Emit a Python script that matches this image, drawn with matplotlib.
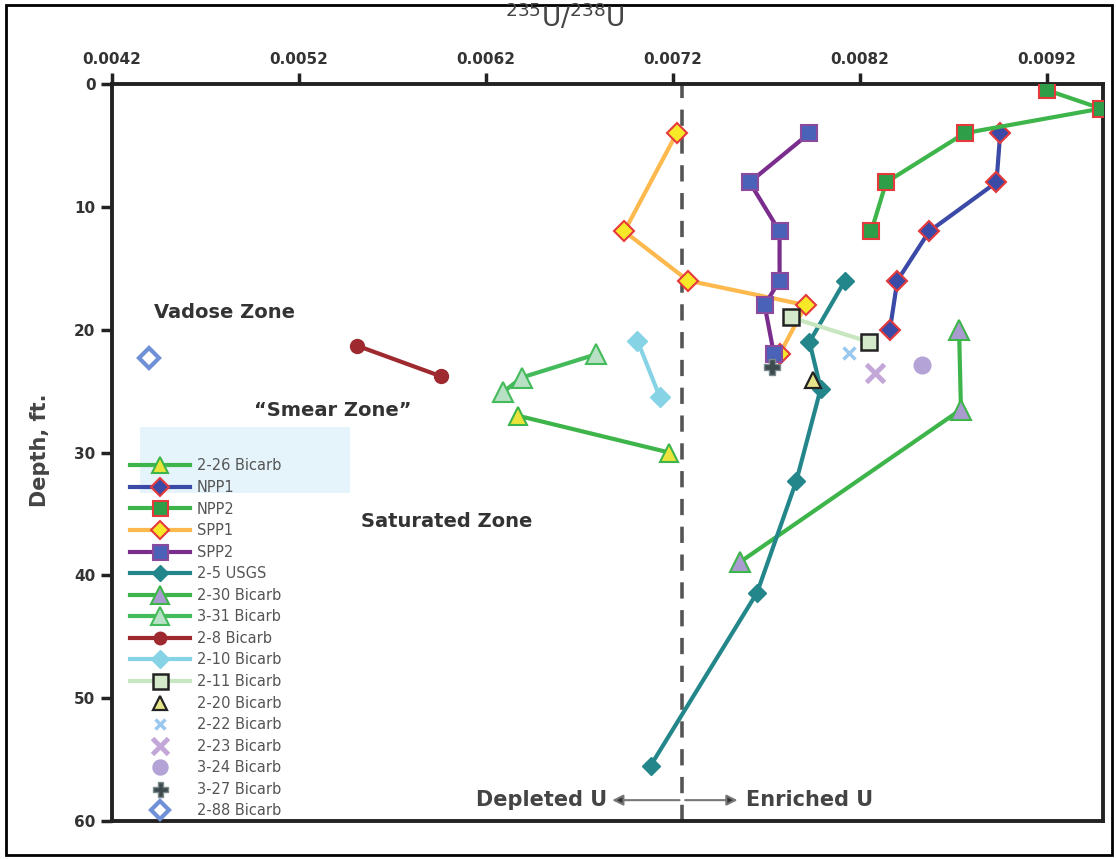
import matplotlib.pyplot as plt
from matplotlib.patches import Rectangle

# ---- data (235U/238U ratio vs depth, ft) ----
npp1_x = [0.00895, 0.00893, 0.00857, 0.00840, 0.00836]
npp1_d = [4, 8, 12, 16, 20]
npp2_x = [0.00920, 0.00949, 0.00876, 0.00834, 0.00826]
npp2_d = [0.5, 2, 4, 8, 12]
spp1_x = [0.00722, 0.00694, 0.00728, 0.00791, 0.00777]
spp1_d = [4, 12, 16, 18, 22]
spp2_x = [0.00793, 0.00761, 0.00777, 0.00777, 0.00769, 0.00774]
spp2_d = [4, 8, 12, 16, 18, 22]
usgs_x = [0.00812, 0.00793, 0.00799, 0.00786, 0.00765, 0.00708]
usgs_d = [16, 21, 24.8, 32.3, 41.4, 55.5]
b230_x = [0.00873, 0.00874, 0.00756]
b230_d = [20, 26.5, 38.9]
b331_x = [0.00679, 0.00639, 0.00629]
b331_d = [22, 23.9, 25.1]
b226_x = [0.00637, 0.00718]
b226_d = [27, 30]
b28_x = [0.00551, 0.00596]
b28_d = [21.3, 23.8]
b210_x = [0.00701, 0.00713]
b210_d = [20.9, 25.5]
b211_x = [0.00783, 0.00825]
b211_d = [19, 21]
b220_x, b220_d = [0.00795], [24.1]
b222_x, b222_d = [0.00814], [21.9]
b223_x, b223_d = [0.00828], [23.5]
b324_x, b324_d = [0.00853], [22.9]
b327_x, b327_d = [0.00773], [23.0]
b288_x, b288_d = [0.00440], [22.3]

natural_ratio = 0.00725
x_ticks = [0.0042, 0.0052, 0.0062, 0.0072, 0.0082, 0.0092]
y_ticks = [0, 10, 20, 30, 40, 50, 60]

fig = plt.figure(figsize=(11.16, 8.59), dpi=100)
ax = fig.add_axes([0.1004, 0.0442, 0.888, 0.858])

green = "#3db54a"
red_edge = "#e5393c"

ax.axvline(natural_ratio, color="#555555", lw=2.6, dashes=(4.5, 3.2), zorder=1)

handles = []
h, = ax.plot(b226_x, b226_d, color=green, lw=3, marker="^", ms=13, mfc="#e9e33c",
             mec=green, mew=1.5, label="2-26 Bicarb", zorder=3)
handles.append(h)
h, = ax.plot(npp1_x, npp1_d, color="#3b4aa6", lw=3, marker="D", ms=10, mfc="#3b4aa6",
             mec=red_edge, mew=1.5, label="NPP1", zorder=3)
handles.append(h)
h, = ax.plot(npp2_x, npp2_d, color=green, lw=3, marker="s", ms=12, mfc="#2f9e48",
             mec=red_edge, mew=1.5, label="NPP2", zorder=3)
handles.append(h)
h, = ax.plot(spp1_x, spp1_d, color="#fdb94e", lw=3, marker="D", ms=10, mfc="#f7e928",
             mec=red_edge, mew=1.5, label="SPP1", zorder=3)
handles.append(h)
h, = ax.plot(spp2_x, spp2_d, color="#7b2d8e", lw=3, marker="s", ms=12, mfc="#4a62b8",
             mec="#8a4a9e", mew=1.5, label="SPP2", zorder=3)
handles.append(h)
h, = ax.plot(usgs_x, usgs_d, color="#23868a", lw=3, marker="D", ms=9, mfc="#23868a",
             mec="#23868a", label="2-5 USGS", zorder=4)
handles.append(h)
h, = ax.plot(b230_x, b230_d, color=green, lw=3, marker="^", ms=14, mfc="#a99bd0",
             mec=green, mew=1.5, label="2-30 Bicarb", zorder=3)
handles.append(h)
h, = ax.plot(b331_x, b331_d, color="#44bb5a", lw=3, marker="^", ms=14, mfc="#b7e0c4",
             mec="#44bb5a", mew=1.5, label="3-31 Bicarb", zorder=3)
handles.append(h)
h, = ax.plot(b28_x, b28_d, color="#9e2a2f", lw=3, marker="o", ms=10, mfc="#9e2a2f",
             mec="#9e2a2f", label="2-8 Bicarb", zorder=3)
handles.append(h)
h, = ax.plot(b210_x, b210_d, color="#86d3e6", lw=3, marker="D", ms=10, mfc="#86d3e6",
             mec="#86d3e6", label="2-10 Bicarb", zorder=3)
handles.append(h)
h, = ax.plot(b211_x, b211_d, color="#c8e6c0", lw=3, marker="s", ms=12, mfc="#d3e9c9",
             mec="#222222", mew=1.8, label="2-11 Bicarb", zorder=4)
handles.append(h)
h, = ax.plot(b220_x, b220_d, ls="none", marker="^", ms=11, mfc="#e6e48a",
             mec="#222222", mew=1.6, label="2-20 Bicarb", zorder=5)
handles.append(h)
h, = ax.plot(b222_x, b222_d, ls="none", marker="x", ms=8, mec="#9bc8ee",
             mew=2.5, label="2-22 Bicarb", zorder=5)
handles.append(h)
h, = ax.plot(b223_x, b223_d, ls="none", marker="x", ms=13, mec="#c3a7d9",
             mew=3.5, label="2-23 Bicarb", zorder=5)
handles.append(h)
h, = ax.plot(b324_x, b324_d, ls="none", marker="o", ms=12, mfc="#b3a3d6",
             mec="#b3a3d6", label="3-24 Bicarb", zorder=5)
handles.append(h)
h, = ax.plot(b327_x, b327_d, ls="none", marker="P", ms=12, mfc="#3d4b4f",
             mec="#7d8a8d", mew=1, label="3-27 Bicarb", zorder=5)
handles.append(h)
h, = ax.plot(b288_x, b288_d, ls="none", marker="D", ms=10, mfc="white",
             mec="#6f8fd6", mew=3, label="2-88 Bicarb", zorder=5)
handles.append(h)

# axes layout: ratio on top, depth increasing downward
ax.set_xlim(0.0042, 0.0095)
ax.set_ylim(60, 0)
ax.xaxis.tick_top()
ax.set_xticks(x_ticks)
ax.set_xticklabels([f"{t:.4f}" for t in x_ticks])
ax.set_yticks(y_ticks)
ax.tick_params(axis="both", direction="out", length=8, width=2.5, colors="#222222",
               labelsize=11, labelcolor="#333333", pad=4)
for lab in ax.get_xticklabels() + ax.get_yticklabels():
    lab.set_fontweight("bold")
for sp in ax.spines.values():
    sp.set_linewidth(2.8)
    sp.set_color("#222222")

fig.text(0.506, 0.979, r"$^{235}$U/$^{238}$U", ha="center", va="center",
         fontsize=19, color="#444444")
fig.text(0.036, 0.476, "Depth, ft.", rotation=90, ha="center", va="center",
         fontsize=15, fontweight="bold", color="#444444")

ax.text(0.0048, 18.6, "Vadose Zone", ha="center", va="center", fontsize=14,
        fontweight="bold", color="#333333")
ax.text(0.00538, 26.6, "\u201cSmear Zone\u201d", ha="center", va="center", fontsize=14,
        fontweight="bold", color="#333333")
ax.text(0.00599, 35.6, "Saturated Zone", ha="center", va="center", fontsize=14,
        fontweight="bold", color="#333333")

# depleted / enriched arrows at the natural ratio
arrow_y = 58.3
ax.annotate("", xy=(0.00686, arrow_y), xytext=(natural_ratio, arrow_y),
            arrowprops=dict(arrowstyle="-|>", color="#777777", lw=1.5,
                            mutation_scale=16, fc="#333333"))
ax.annotate("", xy=(0.00756, arrow_y), xytext=(natural_ratio, arrow_y),
            arrowprops=dict(arrowstyle="-|>", color="#777777", lw=1.5,
                            mutation_scale=16, fc="#333333"))
ax.text(0.00685, arrow_y, "Depleted U", ha="right", va="center", fontsize=15,
        fontweight="bold", color="#444444")
ax.text(0.00759, arrow_y, "Enriched U", ha="left", va="center", fontsize=15,
        fontweight="bold", color="#444444")

# pale box behind the top of the legend
ax.add_patch(Rectangle((0.028, 0.445), 0.212, 0.09, transform=ax.transAxes,
                       facecolor="#e5f4fb", edgecolor="none", zorder=0))

leg = ax.legend(handles=handles, loc="upper left", bbox_to_anchor=(0.018, 0.492),
                frameon=False, fontsize=10.5, handlelength=4.1, handletextpad=0.5,
                labelspacing=0.45, borderpad=0, borderaxespad=0, markerscale=0.9)
for t in leg.get_texts():
    t.set_color("#555555")

fig.add_artist(Rectangle((0.005, 0.005), 0.991, 0.989, transform=fig.transFigure,
                         fill=False, edgecolor="black", lw=2))

fig.savefig("out.png", dpi=100)
